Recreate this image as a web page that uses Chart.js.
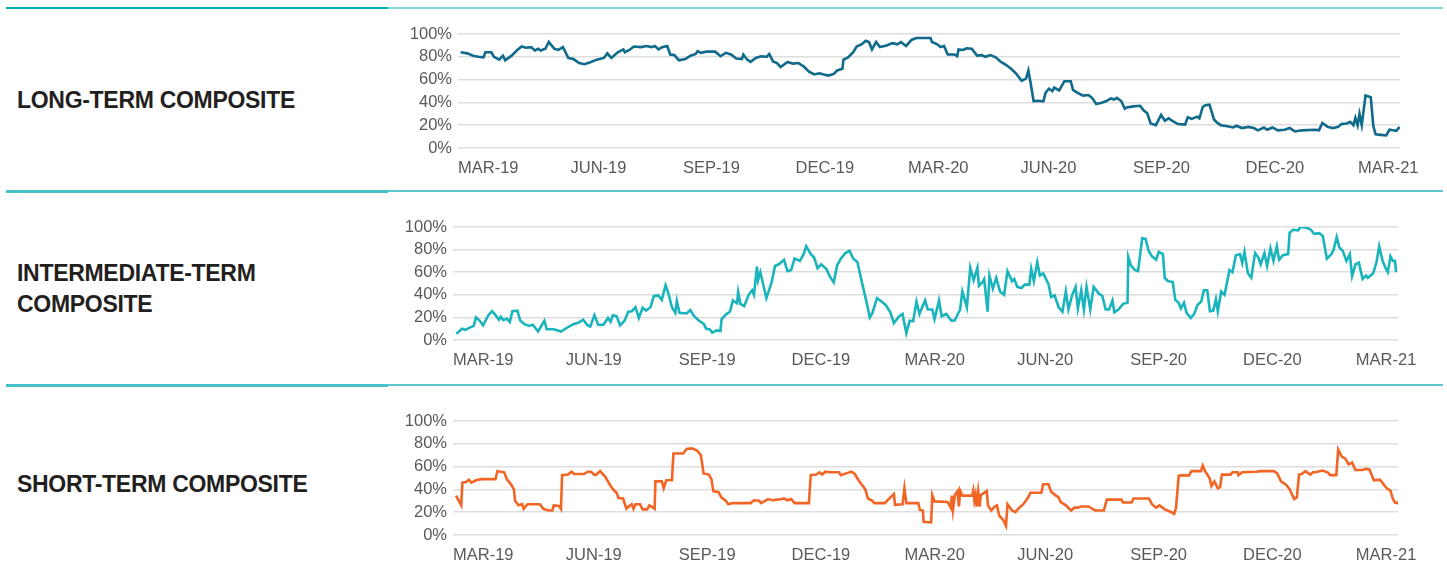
<!DOCTYPE html>
<html>
<head>
<meta charset="utf-8">
<script src="https://cdn.jsdelivr.net/npm/chart.js@4/dist/chart.umd.min.js"></script>
<style>
  body { margin: 0; background: #fff; width: 1447px; height: 571px; position: relative; overflow: hidden;
         font-family: "Liberation Sans", Arial, sans-serif; }
  .rule { position: absolute; }
  .title { position: absolute; left: 17px; font-weight: bold; font-size: 23px; color: #231f20;
           line-height: 31px; letter-spacing: -0.3px; }
  canvas { position: absolute; }
</style>
</head>
<body>
<div class="rule" style="left:6px;top:7px;width:382px;height:2px;background:#00afb9"></div>
<div class="rule" style="left:388px;top:7px;width:1055px;height:2px;background:#80d5d6"></div>
<div class="rule" style="left:6px;top:190px;width:382px;height:3px;background:#45c1c7"></div>
<div class="rule" style="left:388px;top:190px;width:1055px;height:2px;background:#5cc7cc"></div>
<div class="rule" style="left:6px;top:384px;width:382px;height:3px;background:#45c1c7"></div>
<div class="rule" style="left:388px;top:384px;width:1055px;height:2px;background:#5cc7cc"></div>

<div class="title" style="top:85px">LONG-TERM COMPOSITE</div>
<div class="title" style="top:258px">INTERMEDIATE-TERM<br>COMPOSITE</div>
<div class="title" style="top:469px">SHORT-TERM COMPOSITE</div>

<canvas id="longChart"></canvas>
<canvas id="midChart"></canvas>
<canvas id="shortChart"></canvas>

<script>
// x values are months since 1 Mar 2019, y values are percent
var tickMonths = [0, 3, 6, 9, 12, 15, 18, 21, 24];
var tickLabels = ['MAR-19', 'JUN-19', 'SEP-19', 'DEC-19', 'MAR-20', 'JUN-20', 'SEP-20', 'DEC-20', 'MAR-21'];
var yTicks = [0, 20, 40, 60, 80, 100];
var lastMonth = 25.12;

var longMonths = [0.07,0.25,0.4,0.54,0.68,0.73,0.89,0.96,1.1,1.2,1.26,1.43,1.58,1.7,1.81,1.95,2.05,2.14,2.2,2.33,
  2.42,2.57,2.68,2.8,2.94,3.08,3.23,3.37,3.51,3.7,3.89,3.98,4.09,4.26,4.41,4.45,4.57,4.69,4.88,5.02,
  5.16,5.25,5.35,5.44,5.58,5.66,5.77,5.89,6.06,6.2,6.34,6.39,6.48,6.62,6.86,7.0,7.14,7.28,7.42,7.57,
  7.61,7.71,7.8,7.94,8.08,8.23,8.3,8.4,8.51,8.6,8.79,8.93,9.08,9.22,9.36,9.5,9.64,9.75,9.88,10.02,
  10.11,10.25,10.28,10.4,10.54,10.63,10.77,10.87,10.96,11.04,11.15,11.25,11.43,11.58,11.72,11.81,11.95,
  12.1,12.23,12.4,12.6,12.64,12.78,12.87,12.96,13.06,13.24,13.31,13.35,13.47,13.56,13.7,13.84,13.97,
  14.06,14.2,14.34,14.48,14.61,14.75,14.89,15.03,15.15,15.21,15.28,15.35,15.44,15.61,15.67,15.76,15.85,
  15.9,16.03,16.17,16.34,16.4,16.54,16.67,16.81,16.91,17.02,17.14,17.28,17.41,17.5,17.57,17.69,17.78,
  17.83,18.01,18.19,18.28,18.38,18.47,18.61,18.75,18.85,18.95,19.06,19.2,19.39,19.46,19.57,19.71,19.77,
  19.86,19.93,20.04,20.16,20.25,20.34,20.52,20.67,20.76,20.9,21.08,21.22,21.33,21.49,21.58,21.72,21.86,
  22.04,22.18,22.32,22.5,22.87,22.96,23.05,23.19,23.33,23.47,23.56,23.7,23.79,23.88,23.93,23.99,24.04,
  24.1,24.2,24.34,24.41,24.47,24.61,24.75,24.84,24.93,25.02,25.11];
var longValues = [84,83,81,80,79.5,84,84,80,77.5,81,77,81,86,89,88,88.5,85.5,87,85.5,87,
  93,87,86,88.5,79,78,74.5,73.5,75,77.5,79,83,79,84,86.5,84,86,89,88.5,89.5,
  88.5,89.5,86.5,88.5,89.5,82,81.5,77,78,81,82.5,85,83.5,84.5,84.5,80.5,83.5,82,78.5,78,
  82,77.5,75.5,79,80.5,80,82.5,76,74.5,71,75.5,74,74.5,71.5,67,64.5,65.5,64.5,63.5,65,
  68,69.5,77.5,79.5,84,89,91,94,93,86.5,93,88.5,90,92,91,93,89.5,
  95,96.5,96.5,96.5,93,91,88.5,89.5,82,82,80.5,86.5,86,87.5,87,81,81.5,
  80,81.5,79.5,75.5,73,69.5,65,59,61,68,55,41,41.5,41,48.5,52,50,
  53,50.5,58.5,58.5,51,48,46,46.5,44,38.5,39.5,41,43.5,42.5,44,41,34.5,
  35.5,36.5,37,33,30.5,21.5,20,29,24,26,23.5,21,20.5,27,25.5,27.5,26,
  36,37.5,38,25,22,20,19,18,19.5,17.5,18.5,17.5,15.5,18,16,18,15.5,
  16,17.5,14.5,15.5,16,15.5,22,18.5,17.5,18.5,21,21.5,23,20,26.5,20,30,
  20,46,44.5,19,12,11.5,11,16,15.5,15,18.5];

var midMonths = [0.09,0.24,0.33,0.42,0.55,0.61,0.71,0.8,0.94,1.04,1.13,1.22,1.27,1.34,1.43,1.51,1.58,1.71,1.79,1.9,
  2.02,2.12,2.26,2.43,2.49,2.68,2.87,3.06,3.2,3.34,3.46,3.58,3.65,3.76,3.86,4.0,4.12,4.19,4.25,4.35,
  4.44,4.56,4.66,4.75,4.85,4.94,5.04,5.13,5.25,5.34,5.46,5.55,5.65,5.72,5.82,5.91,5.95,6.02,6.21,6.31,
  6.4,6.54,6.66,6.73,6.82,6.89,7.01,7.11,7.14,7.25,7.36,7.44,7.55,7.58,7.64,7.74,7.86,7.95,8.0,8.08,
  8.11,8.17,8.24,8.33,8.47,8.56,8.66,8.8,8.89,8.99,9.08,9.22,9.32,9.39,9.51,9.6,9.69,9.79,9.93,10.02,
  10.12,10.21,10.31,10.43,10.54,10.64,10.75,10.87,10.99,11.08,11.15,11.27,11.39,11.5,11.62,11.72,11.86,11.95,
  12.05,12.14,12.23,12.32,12.4,12.46,12.55,12.62,12.74,12.8,12.92,12.99,13.11,13.25,13.34,13.48,13.54,13.66,
  13.75,13.84,13.94,13.98,14.07,14.12,14.21,14.26,14.35,14.44,14.54,14.65,14.74,14.86,14.92,15.0,15.11,15.2,
  15.32,15.37,15.44,15.53,15.6,15.69,15.83,15.9,15.99,16.1,16.2,16.29,16.36,16.46,16.55,16.61,16.7,16.77,
  16.84,16.94,17.03,17.17,17.26,17.35,17.44,17.53,17.58,17.69,17.81,17.93,17.95,18.02,18.12,18.21,18.32,18.41,
  18.49,18.58,18.69,18.76,18.87,18.92,19.01,19.13,19.2,19.29,19.35,19.43,19.5,19.61,19.7,19.79,19.89,19.96,
  20.05,20.12,20.21,20.28,20.33,20.42,20.51,20.64,20.72,20.81,20.92,20.98,21.04,21.13,21.22,21.32,21.41,21.47,
  21.57,21.64,21.73,21.81,21.9,21.96,22.06,22.2,22.24,22.33,22.47,22.52,22.66,22.79,22.89,23.03,23.12,23.23,
  23.35,23.41,23.49,23.56,23.65,23.75,23.84,23.9,23.99,24.08,24.18,24.27,24.32,24.46,24.55,24.62,24.71,24.8,
  24.85,24.92,24.98,25.04,25.07];
var midValues = [5.5,10,9,10.5,12.5,20,17,13,22,25.5,22,18,20.5,17.5,19,16,25.5,26,17,14,
  12.5,13.5,7.5,17,9.5,9.5,7.5,11.5,14,15.5,18,13,12,22,13.5,13.5,19.5,16,22,21,
  13,17,25,25.5,29,19.5,28.5,26,29,39,39.5,35.5,48.5,42,29,24,34.5,24,23.5,26.5,
  21.5,17,14.5,10,9.5,6.5,8.5,8,18.5,22.5,25,35,32.5,42.5,32,30,40,44,40,65,
  53,60,50,37,51,65.5,67,71,61,62,72,70,76,83,76,73,63.5,67,62.5,56,
  51,66,72,77,79,72,69,51,34,20,24,37,34,31,25,15,21,23,
  6,17,16.5,34,23,28,35,27,27,18.5,35,21,23,17,17.5,27,43,29,
  64,53,64,48,51,54,25,57,45.5,55,43,40,61,52,54,47,46,49,
  49,63,52,69,57,59,49.5,38,39.5,29,25,43,27,40,47,28,44,27,
  47,27,47,41,39,27,27,35,24.5,27,32,33,73.5,66,62,61,90,89.5,
  79,74,71,78,76,55,52,51.5,35.5,33,28,33,24,19.5,23,31,34,44,
  44,25.5,26,36,25.5,43,40,62,60,75,76,68,78,59,55,77,73,67,
  77,65.5,81,70,83,71,75,76,95,97.5,97,100,99.5,98,94,94.5,92,72,
  76,80,91,82,79,70,76,56.5,67,68.5,54,57,55,59,69,83,70,63,
  60,74,70,70,60];

var shortMonths = [0.08,0.17,0.22,0.25,0.35,0.42,0.49,0.61,0.75,1.13,1.18,1.27,1.36,1.43,1.55,1.62,1.65,1.74,1.84,1.88,
  1.98,2.31,2.4,2.54,2.64,2.68,2.82,2.87,2.9,3.06,3.15,3.22,3.48,3.58,3.67,3.75,3.81,3.91,4.05,4.19,
  4.28,4.35,4.4,4.52,4.61,4.71,4.75,4.8,4.85,4.97,5.04,5.16,5.22,5.32,5.36,5.38,5.55,5.6,5.67,5.82,
  5.86,6.12,6.21,6.35,6.49,6.59,6.66,6.8,6.87,6.92,7.06,7.13,7.25,7.32,7.44,7.91,8.0,8.14,8.19,8.33,
  8.38,8.49,8.75,8.8,8.89,8.99,9.08,9.46,9.51,9.65,9.74,9.81,9.9,10.02,10.26,10.31,10.49,10.59,10.68,10.78,
  10.85,10.96,11.03,11.15,11.2,11.48,11.58,11.72,11.75,11.95,12.0,12.05,12.37,12.41,12.49,12.51,12.71,12.74,12.8,13.15,
  13.23,13.26,13.29,13.34,13.41,13.45,13.48,13.54,13.8,13.83,13.86,13.89,13.92,13.96,14.0,14.03,14.19,14.22,14.31,14.4,
  14.46,14.52,14.63,14.7,14.74,14.86,14.95,15.04,15.16,15.27,15.35,15.64,15.69,15.83,15.9,16.01,16.1,16.15,16.29,16.43,
  16.52,16.61,16.7,16.89,17.07,17.3,17.38,17.58,17.77,17.81,18.04,18.09,18.5,18.58,18.69,18.78,18.92,19.1,19.17,19.22,
  19.29,19.43,19.56,19.63,19.88,19.93,19.99,20.11,20.16,20.24,20.33,20.39,20.44,20.67,20.72,20.86,20.88,20.98,21.36,21.46,
  21.82,21.91,22.01,22.15,22.24,22.36,22.43,22.49,22.56,22.66,22.79,22.86,22.93,23.11,23.25,23.32,23.48,23.53,23.62,23.72,
  23.81,23.9,23.99,24.18,24.27,24.36,24.48,24.64,24.7,24.82,24.92,24.98,25.04,25.1,25.15,25.19];
var shortValues = [34.5,29,26,46,46.5,48.5,46,48,49,49,56,55.5,55,49,44,40,30,26,27,23,
  27,27,23,21.5,21.5,26,25.5,23,52.5,53,55.5,53.5,53.5,55.5,55.5,53,53,56,51,43,
  39,37,32.5,32,23,26,27,23,27,27,22.5,22.5,26,24,23,47,47,41,48,48,
  71.5,71.5,75.5,76,74,70,54,53,49,38.5,37.5,33,30,27,28,28,30.5,30,28,30.5,
  31.5,30.5,31.5,32,30.5,31.5,28,28,52.5,53,55,53,55.5,55,55,52.5,54.5,55.5,53.5,48,
  45,40,32,30,28,28,31.5,36,26.5,27,41,28,28,22,21.5,11.5,11,35,29.5,29,
  24,34.5,22,35,38.5,25,39,34.5,34.5,39,30,35,25,38,25,35,38.5,26,21.5,25,
  26,17,13,8,27,21.5,20,23.5,27,32,37,37,44.5,44.5,38,35,33,29,26,21.5,
  24,24,25,25,21.5,21.5,31,31,31,28.5,28.5,32,32,27,24,26,22.5,20,18.5,24,
  52,52.5,52,56,56,61,56,50,43,47,41,42,53,53,55,55,52.5,55,55.5,56,
  56,54,47,44,40,31.5,33,53,53.5,56,53,55,55,56.5,55,52.5,52.5,75,69,67,
  62,63.5,57,57,58,57.5,48,48.5,46,41,39,32,28.5,28,29.5,28];

function toPoints(months, values) {
  return months.map(function (m, i) { return { x: m, y: values[i] }; });
}

var tickFont = { family: '"Liberation Sans", Arial, sans-serif', size: 16.5 };
var tickColor = '#58595b';

function makePanel(id, months, values, color, area) {
  var canvas = document.getElementById(id);
  var left = 388, top = area.top - 20;
  var w = 1447 - left, h = area.bottom + 28 - top;
  canvas.style.left = left + 'px';
  canvas.style.top = top + 'px';
  canvas.width = w;
  canvas.height = h;
  return new Chart(canvas.getContext('2d'), {
    type: 'line',
    data: {
      datasets: [{
        data: toPoints(months, values),
        borderColor: color,
        borderWidth: 2.6,
        pointRadius: 0,
        tension: 0,
        fill: false
      }]
    },
    options: {
      responsive: false,
      animation: false,
      events: [],
      layout: { padding: { top: 20, right: 1447 - area.right, bottom: 0, left: 0 } },
      plugins: { legend: { display: false }, tooltip: { enabled: false } },
      scales: {
        x: {
          type: 'linear',
          min: 0,
          max: lastMonth,
          afterBuildTicks: function (axis) {
            axis.ticks = tickMonths.map(function (v) { return { value: v }; });
          },
          afterFit: function (axis) { axis.height = 28; },
          grid: { display: false },
          border: { display: false },
          ticks: {
            autoSkip: false,
            maxRotation: 0,
            align: 'start',
            padding: 3,
            color: tickColor,
            font: tickFont,
            callback: function (v, i) { return tickLabels[i]; }
          }
        },
        y: {
          min: 0,
          max: 100,
          afterBuildTicks: function (axis) {
            axis.ticks = yTicks.map(function (v) { return { value: v }; });
          },
          afterFit: function (axis) { axis.width = area.left - left; },
          grid: { color: '#dedede', lineWidth: 1.5, drawTicks: false },
          border: { display: false },
          ticks: {
            autoSkip: false,
            padding: 6,
            color: tickColor,
            font: tickFont,
            callback: function (v) { return v + '%'; }
          }
        }
      }
    }
  });
}

makePanel('longChart', longMonths, longValues, '#0f6a8b', { left: 458, right: 1400, top: 34, bottom: 148 });
makePanel('midChart', midMonths, midValues, '#1ab4bc', { left: 453, right: 1398, top: 227, bottom: 340 });
makePanel('shortChart', shortMonths, shortValues, '#f26524', { left: 453, right: 1398, top: 421, bottom: 535 });
</script>
</body>
</html>
